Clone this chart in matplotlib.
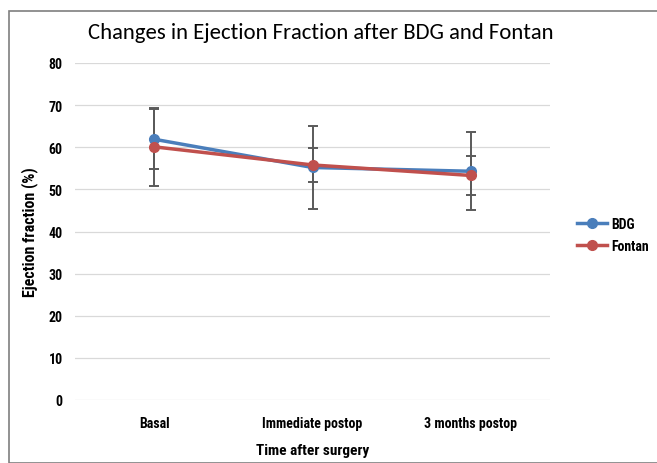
import matplotlib
matplotlib.use("Agg")
import matplotlib.pyplot as plt
from matplotlib.patches import Rectangle

#---------------------------------------------------
# data
#---------------------------------------------------
categories = ["Basal", "Immediate postop", "3 months postop"]
bdg_mean = [61.9, 55.2, 54.3]
bdg_sd = [7.1, 9.8, 9.3]
fontan_mean = [60.1, 55.8, 53.3]
fontan_sd = [9.3, 4.0, 4.6]
y_ticks = [0, 10, 20, 30, 40, 50, 60, 70, 80]

narrow = ["Roboto Condensed", "DejaVu Sans"]
title_font = ["Carlito", "DejaVu Sans"]

fig = plt.figure(figsize=(6.57, 4.64), dpi=100)
fig.patches.append(Rectangle((9 / 657, 0), 1, 1 - 12 / 464, transform=fig.transFigure,
                             fill=False, edgecolor="#7f7f7f", linewidth=1.2))

ax = fig.add_axes([75 / 657, 1 - 401 / 464, 475 / 657, 337 / 464])
x = list(range(len(categories)))

ax.errorbar(x, bdg_mean, yerr=bdg_sd, fmt="none", ecolor="#5a5a5a",
            elinewidth=1.4, capsize=3.5, capthick=1.4, zorder=2)
ax.errorbar(x, fontan_mean, yerr=fontan_sd, fmt="none", ecolor="#5a5a5a",
            elinewidth=1.4, capsize=3.5, capthick=1.4, zorder=2)
ax.plot(x, bdg_mean, color="#4a7ebb", lw=2.5, marker="o", ms=7, label="BDG", zorder=3)
ax.plot(x, fontan_mean, color="#c0504d", lw=2.5, marker="o", ms=7, label="Fontan", zorder=4)

ax.set_xlim(-0.5, 2.5)
ax.set_ylim(0, 80)
ax.set_yticks(y_ticks)
ax.set_xticks(x)
ax.set_xticklabels(categories)
ax.grid(axis="y", color="#d9d9d9", lw=0.9)
ax.set_axisbelow(True)
for s in ax.spines.values():
    s.set_visible(False)
ax.tick_params(axis="x", length=0, pad=11.5)
ax.tick_params(axis="y", length=0, pad=9)
for lab in ax.get_xticklabels() + ax.get_yticklabels():
    lab.set_fontfamily(narrow)
    lab.set_fontweight("bold")
    lab.set_fontsize(10)

ax.set_xlabel("Time after surgery", fontfamily=narrow, fontweight="bold", fontsize=11, va="center")
ax.xaxis.set_label_coords(0.5, (401 - 451) / 337)
ax.set_ylabel("Ejection fraction (%)", fontfamily=narrow, fontweight="bold", fontsize=11.5, va="center")
ax.yaxis.set_label_coords((30 - 75) / 475, 0.5)

fig.text(321 / 657, 1 - 33 / 464, "Changes in Ejection Fraction after BDG and Fontan",
         ha="center", va="center", fontsize=16.4, fontfamily=title_font)

leg = ax.legend(loc="center left", bbox_to_anchor=(1.03, 0.49), frameon=False,
                prop={"family": narrow, "weight": "bold", "size": 10},
                handlelength=2.2, handletextpad=0.25, labelspacing=0.55)

fig.savefig("out.png", dpi=100)
